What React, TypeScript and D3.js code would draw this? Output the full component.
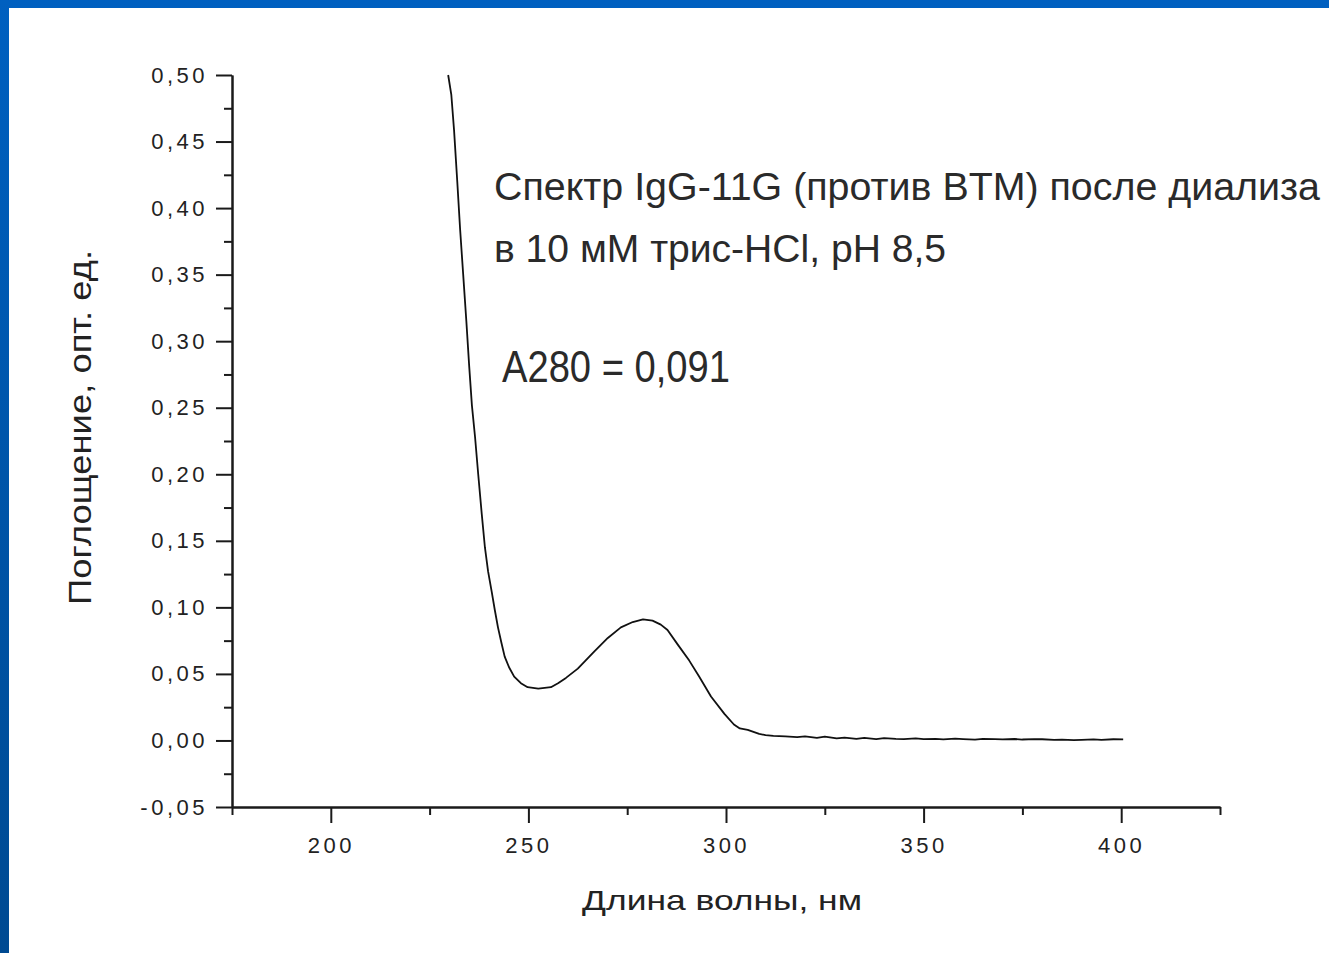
import React, { useEffect, useRef } from 'react';
import * as d3 from 'd3';

// Spectrum (nm, optical units)
const wavelength = [
  229.7, 230.5, 231.2, 232.0, 232.7, 233.5, 234.3, 235.0, 235.7, 236.5,
  237.3, 238.2, 239.0, 239.8, 240.7, 241.5, 242.3, 243.2, 244.0, 245.1,
  246.4, 248.1, 249.8, 252.5, 255.7, 257.5, 259.5, 262.5, 266.7, 270.1,
  273.4, 276.4, 279.0, 281.4, 283.5, 285.2, 287.8, 290.7, 293.2, 296.2,
  299.6, 302.0, 303.5, 305.5, 308.4, 310, 312, 315, 318, 320,
  323, 325, 328, 330, 333, 335, 338, 340, 343, 345,
  348, 350, 353, 355, 358, 360, 363, 365, 368, 370,
  373, 375, 378, 380, 383, 385, 388, 390, 393, 395,
  398, 400.5
];
const absorbance = [
  0.500, 0.485, 0.458, 0.420, 0.385, 0.350, 0.315, 0.282, 0.252, 0.228,
  0.200, 0.170, 0.145, 0.127, 0.112, 0.098, 0.085, 0.073, 0.063, 0.055,
  0.048, 0.043, 0.040, 0.039, 0.040, 0.043, 0.047, 0.054, 0.067, 0.077,
  0.085, 0.089, 0.091, 0.090, 0.087, 0.083, 0.072, 0.060, 0.048, 0.033,
  0.020, 0.012, 0.009, 0.008, 0.005, 0.004, 0.0035, 0.003, 0.0025, 0.003,
  0.002, 0.0028, 0.0015, 0.0022, 0.0012, 0.002, 0.001, 0.0018, 0.0012, 0.001,
  0.0015, 0.001, 0.0012, 0.0008, 0.0013, 0.001, 0.0006, 0.0012, 0.001, 0.0008,
  0.0011, 0.0007, 0.001, 0.0009, 0.0004, 0.0006, 0.0002, 0.0004, 0.0008, 0.0005,
  0.0009, 0.0008
];

const xMajor = [200, 250, 300, 350, 400];
const xMinor = [175, 225, 275, 325, 375, 425];
const yMajor = [-0.05, 0, 0.05, 0.1, 0.15, 0.2, 0.25, 0.3, 0.35, 0.4, 0.45, 0.5];
const yMinor = [-0.025, 0.025, 0.075, 0.125, 0.175, 0.225, 0.275, 0.325, 0.375, 0.425, 0.475];

const noteLines = [
  'Спектр IgG-11G (против BTM) после диализа',
  'в 10 мМ трис-HCl, pH 8,5',
  'A280 = 0,091'
];
const xTitle = 'Длина волны, нм';
const yTitle = 'Поглощение, опт. ед.';

const W = 1329;
const H = 953;

const App = () => {
  const svgRef = useRef(null);

  useEffect(() => {
    const svg = d3.select(svgRef.current);
    svg.selectAll('*').remove();

    // slide background + white picture
    const defs = svg.append('defs');
    const grad = defs.append('linearGradient')
      .attr('id', 'slideBlue').attr('x1', 0).attr('y1', 0).attr('x2', 0).attr('y2', 1);
    grad.append('stop').attr('offset', '0%').attr('stop-color', '#0060c0');
    grad.append('stop').attr('offset', '100%').attr('stop-color', '#004a92');
    svg.append('rect').attr('width', W).attr('height', H).attr('fill', 'url(#slideBlue)');
    svg.append('rect').attr('x', 9).attr('y', 8).attr('width', W - 9).attr('height', H - 8).attr('fill', '#fff');

    const x = d3.scaleLinear().domain([175, 425]).range([232, 1220]);
    const y = d3.scaleLinear().domain([-0.05, 0.5]).range([807, 75]);

    const fmt = (v) => v.toFixed(2).replace('.', ',');
    const ink = '#1a1a1a';

    const styleAxis = (g) => {
      g.select('.domain').attr('stroke', ink).attr('stroke-width', 2);
      g.selectAll('.tick line').attr('stroke', ink).attr('stroke-width', 2);
      g.selectAll('.tick text')
        .attr('fill', '#222')
        .style('font-family', '"Liberation Sans", Arial, sans-serif')
        .style('font-size', '22px')
        .style('letter-spacing', '3.5px');
    };

    // minor ticks first, then the major axes on top
    svg.append('g')
      .attr('transform', 'translate(232,0)')
      .call(d3.axisLeft(y).tickValues(yMinor).tickSize(8).tickSizeOuter(0).tickFormat(() => ''))
      .call(styleAxis);
    svg.append('g')
      .attr('transform', 'translate(0,807)')
      .call(d3.axisBottom(x).tickValues(xMinor).tickSize(8).tickSizeOuter(0).tickFormat(() => ''))
      .call(styleAxis);

    svg.append('g')
      .attr('transform', 'translate(232,0)')
      .call(d3.axisLeft(y).tickValues(yMajor).tickSize(16).tickSizeOuter(0).tickPadding(8).tickFormat(fmt))
      .call(styleAxis);
    svg.append('g')
      .attr('transform', 'translate(0,807)')
      .call(d3.axisBottom(x).tickValues(xMajor).tickSize(16).tickSizeOuter(0).tickPadding(14).tickFormat(d3.format('d')))
      .call(styleAxis);

    // spectrum
    const pts = wavelength.map((w, i) => [w, absorbance[i]]);
    const line = d3.line().x(d => x(d[0])).y(d => y(d[1]));
    svg.append('path')
      .datum(pts)
      .attr('d', line)
      .attr('fill', 'none')
      .attr('stroke', '#111')
      .attr('stroke-width', 1.8)
      .attr('stroke-linejoin', 'round');

    // axis titles
    const font = '"Liberation Sans", Arial, sans-serif';
    svg.append('text')
      .attr('x', 582).attr('y', 910)
      .attr('textLength', 280).attr('lengthAdjust', 'spacingAndGlyphs')
      .attr('fill', '#222')
      .style('font-family', font).style('font-size', '28px')
      .text(xTitle);
    svg.append('text')
      .attr('transform', 'translate(91,605) rotate(-90)')
      .attr('textLength', 355).attr('lengthAdjust', 'spacingAndGlyphs')
      .attr('fill', '#222')
      .style('font-family', font).style('font-size', '31px')
      .text(yTitle);

    // annotation
    const notes = [
      { x: 494, y: 200, len: 826, size: 38 },
      { x: 494, y: 262, len: 452, size: 38 },
      { x: 502, y: 382, len: 228, size: 45 }
    ];
    notes.forEach((n, i) => {
      svg.append('text')
        .attr('x', n.x).attr('y', n.y)
        .attr('textLength', n.len).attr('lengthAdjust', 'spacingAndGlyphs')
        .attr('fill', '#2a2a2a')
        .style('font-family', font).style('font-size', n.size + 'px')
        .text(noteLines[i]);
    });
  }, []);

  return (
    <svg ref={svgRef} width={W} height={H}
      style={{ position: 'absolute', left: 0, top: 0, display: 'block' }} />
  );
};

export default App;
